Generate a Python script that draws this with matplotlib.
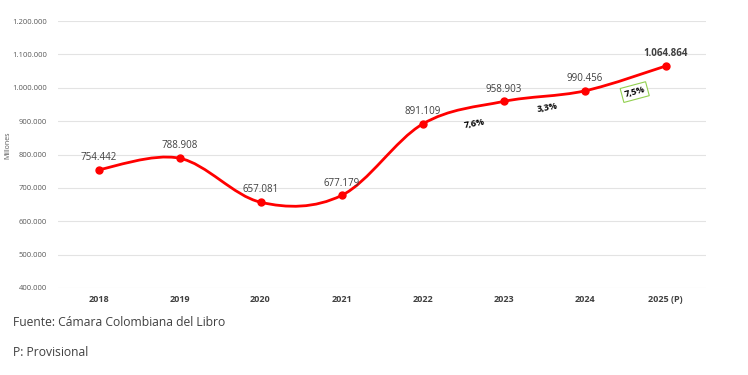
import matplotlib.pyplot as plt
from matplotlib.path import Path
from matplotlib.patches import PathPatch
from matplotlib.ticker import FuncFormatter

plt.rcParams['font.family'] = ['Open Sans', 'DejaVu Sans']

# Data
years = ['2018', '2019', '2020', '2021', '2022', '2023', '2024', '2025 (P)']
valores = [754442, 788908, 657081, 677179, 891109, 958903, 990456, 1064864]
etiquetas = ['754.442', '788.908', '657.081', '677.179', '891.109', '958.903', '990.456', '1.064.864']
variaciones = ['7,6%', '3,3%', '7,5%']
var_x = [4.64, 5.54, 6.62]
var_y = [892000, 940000, 987000]
var_rot = [10, 10, 15]

fig = plt.figure(figsize=(7.48, 3.75), dpi=100)
ax = fig.add_axes([58 / 748, 1 - 288 / 375, 648 / 748, 267 / 375])

x = list(range(len(years)))

# smoothed line like Excel (Catmull-Rom -> Bezier)
verts = [(x[0], valores[0])]
codes = [Path.MOVETO]
n = len(x)
for i in range(n - 1):
    p0 = (x[max(i - 1, 0)], valores[max(i - 1, 0)])
    p1 = (x[i], valores[i])
    p2 = (x[i + 1], valores[i + 1])
    p3 = (x[min(i + 2, n - 1)], valores[min(i + 2, n - 1)])
    c1 = (p1[0] + (p2[0] - p0[0]) / 6, p1[1] + (p2[1] - p0[1]) / 6)
    c2 = (p2[0] - (p3[0] - p1[0]) / 6, p2[1] - (p3[1] - p1[1]) / 6)
    verts += [c1, c2, p2]
    codes += [Path.CURVE4] * 3
ax.add_patch(PathPatch(Path(verts, codes), facecolor='none', edgecolor='#ff0000', lw=2.0, zorder=3))
ax.plot(x, valores, 'o', color='#ff0000', ms=5, zorder=4)

for i, (v, t) in enumerate(zip(valores, etiquetas)):
    ax.annotate(t, (i, v), xytext=(0, 5), textcoords='offset points', ha='center', va='bottom',
                fontsize=7, color='#404040',
                fontweight='bold' if i == n - 1 else 'normal')

for k, (vx, vy, t, r) in enumerate(zip(var_x, var_y, variaciones, var_rot)):
    bbox = None
    if k == 2:
        bbox = dict(boxstyle='square,pad=0.3', facecolor='white', edgecolor='#92d050', lw=0.8)
    ax.text(vx, vy, t, ha='center', va='center', fontsize=6.5, fontweight='bold',
            color='#000000', rotation=r, bbox=bbox, zorder=5)

ax.set_xlim(-0.5, 7.5)
ax.set_ylim(400000, 1200000)
ax.set_yticks(range(400000, 1200001, 100000))
ax.yaxis.set_major_formatter(FuncFormatter(lambda v, p: f'{int(v):,}'.replace(',', '.')))
ax.set_xticks(x)
ax.set_xticklabels(years, fontweight='bold', fontsize=6.5, color='#404040')
ax.tick_params(axis='y', labelsize=5.5, labelcolor='#595959', length=0, pad=8)
ax.tick_params(axis='x', length=0, pad=5)
ax.grid(axis='y', color='#e3e3e3', lw=0.8)
ax.set_axisbelow(True)
for s in ax.spines.values():
    s.set_visible(False)

fig.text(8 / 748, 1 - 145 / 375, 'Millones', rotation=90, fontsize=5, color='#595959', ha='center', va='center')
fig.text(13 / 748, 1 - 323 / 375, 'Fuente: Cámara Colombiana del Libro', fontsize=8.7, color='#404040', va='center')
fig.text(13 / 748, 1 - 353 / 375, 'P: Provisional', fontsize=8.7, color='#404040', va='center')

fig.savefig('out.png', dpi=100)
